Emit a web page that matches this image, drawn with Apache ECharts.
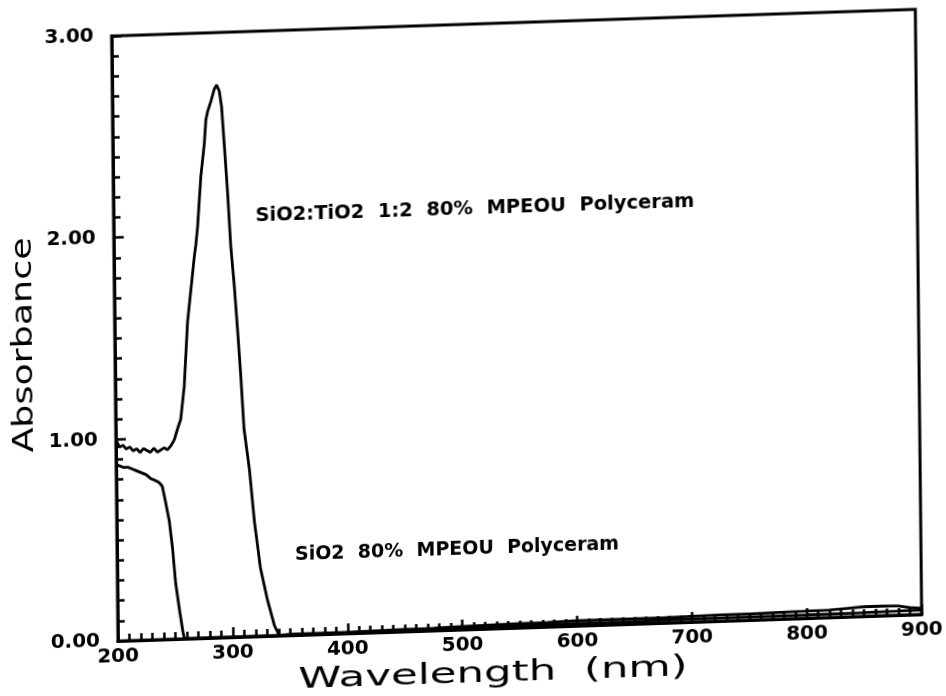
<!DOCTYPE html>
<html>
<head>
<meta charset="utf-8">
<title>Absorbance spectra</title>
<script src="https://cdn.jsdelivr.net/npm/echarts@6/dist/echarts.min.js"></script>
<style>
  html, body { margin: 0; padding: 0; background: #fff; overflow: hidden; width: 946px; height: 696px; }
  /* the plotted sheet sits slightly tilted on the page; the canvas runs a little past
     the bottom edge so the tilted axis title is not cut off */
  #chart { width: 946px; height: 740px; transform: rotate(-0.6deg) skewY(-1.3deg); transform-origin: 118px 641px; }
</style>
</head>
<body>
<div id="chart"></div>
<script>
// Axis ranges and tick spacing
const xRange = [200, 900];
const xStep = 100;
const yRange = [0, 3];
const yStep = 1;

// SiO2:TiO2 1:2 80% MPEOU Polyceram
const wavelengthTi = [200, 203, 206, 209, 212, 215, 218, 221, 224, 227, 230, 233, 236, 239, 242, 245, 248, 251,
  253.7, 256.7, 260, 263.5, 266.7, 269.9, 271.4, 273.1, 276.4, 279.7, 281.3, 282.9, 285.8, 288.9, 290.9, 293.2, 295.1,
  297, 299.5, 301.8, 304.4, 306.9, 309.3, 311.7, 316, 319.9, 324.7, 330.5, 336.4, 340.6,
  350, 375, 400, 425, 450, 475, 500, 525, 550, 575, 600, 625, 650, 675, 700, 725, 750, 775, 800, 820, 835, 850,
  865, 880, 890, 900];
const absorbanceTi = [1.00, 0.96, 0.97, 0.95, 0.96, 0.94, 0.95, 0.93, 0.95, 0.94, 0.93, 0.95, 0.93, 0.94, 0.95, 0.94, 0.96, 0.99,
  1.04, 1.09, 1.25, 1.57, 1.73, 1.89, 1.95, 2.04, 2.29, 2.45, 2.57, 2.61, 2.66, 2.72, 2.74, 2.71, 2.63,
  2.45, 2.21, 1.94, 1.75, 1.53, 1.30, 1.03, 0.83, 0.57, 0.34, 0.18, 0.05, 0.0,
  0.005, 0.005, 0.005, 0.008, 0.01, 0.012, 0.015, 0.018, 0.02, 0.022, 0.025, 0.025, 0.025, 0.025, 0.028, 0.03, 0.03, 0.033, 0.035, 0.037, 0.042, 0.047,
  0.048, 0.045, 0.035, 0.03];

// SiO2 80% MPEOU Polyceram
const wavelengthSi = [200, 202, 206, 210, 214, 218, 222, 226, 230, 234, 237, 240, 242.4, 245.8, 248.3, 250.8, 254.2, 256.8, 258,
  270, 300, 350, 400, 450, 500, 550, 600, 650, 700, 750, 800, 850, 880, 900];
const absorbanceSi = [0.88, 0.87, 0.86, 0.86, 0.85, 0.84, 0.83, 0.82, 0.80, 0.79, 0.78, 0.76, 0.69, 0.585, 0.455, 0.275, 0.13, 0.03, 0.0,
  0.0, 0.0, 0.0, 0.003, 0.005, 0.008, 0.01, 0.012, 0.012, 0.014, 0.015, 0.016, 0.018, 0.02, 0.022];

const seriesNames = ['SiO2:TiO2  1:2  80%  MPEOU  Polyceram', 'SiO2  80%  MPEOU  Polyceram'];
const xTitle = 'Wavelength  (nm)';
const yTitle = 'Absorbance';

const pairs = (xs, ys) => xs.map((x, i) => [x, ys[i]]);

const chart = echarts.init(document.getElementById('chart'), null, { renderer: 'canvas' });

const axisFont = { fontFamily: 'DejaVu Sans', fontWeight: 'bold', fontSize: 20, color: '#000' };
const tickStyle = { color: '#000', width: 2.5 };

chart.setOption({
  animation: false,
  backgroundColor: '#fff',
  grid: { left: 118, right: 23, top: 36, bottom: 99, show: true, borderColor: '#000', borderWidth: 3, backgroundColor: 'transparent' },
  xAxis: {
    type: 'value', min: xRange[0], max: xRange[1], interval: xStep,
    axisLine: { lineStyle: { color: '#000', width: 3 } },
    axisTick: { inside: true, length: 10, lineStyle: tickStyle },
    minorTick: { show: true, splitNumber: 10, length: 7, lineStyle: tickStyle },
    splitLine: { show: false },
    axisLabel: Object.assign({ margin: 6 }, axisFont)
  },
  yAxis: {
    type: 'value', min: yRange[0], max: yRange[1], interval: yStep,
    axisLine: { lineStyle: { color: '#000', width: 3 } },
    axisTick: { inside: true, length: 10, lineStyle: tickStyle },
    minorTick: { show: true, splitNumber: 10, length: 7, lineStyle: tickStyle },
    splitLine: { show: false },
    axisLabel: Object.assign({ margin: 18, formatter: v => v.toFixed(2) }, axisFont)
  },
  series: [
    {
      name: seriesNames[0], type: 'line', data: pairs(wavelengthTi, absorbanceTi),
      showSymbol: false, lineStyle: { color: '#000', width: 2.8 }, z: 3
    },
    {
      name: seriesNames[1], type: 'line', data: pairs(wavelengthSi, absorbanceSi),
      showSymbol: false, lineStyle: { color: '#000', width: 2.8 }, z: 3
    }
  ],
  graphic: [
    {
      type: 'text', x: 28, y: 342, rotation: Math.PI / 2, scaleX: 1.3,
      style: { text: yTitle, fontFamily: 'DejaVu Sans', fontSize: 28, fill: '#000', align: 'center', verticalAlign: 'middle' }
    },
    {
      type: 'text', x: 298, y: 686, scaleX: 1.5,
      style: { text: xTitle, fontFamily: 'DejaVu Sans', fontSize: 29, fill: '#000', align: 'left', verticalAlign: 'middle' }
    },
    {
      type: 'text', x: 260, y: 221,
      style: { text: seriesNames[0], fontFamily: 'DejaVu Sans', fontWeight: 'bold', fontSize: 19.5, fill: '#000', align: 'left', verticalAlign: 'middle' }
    },
    {
      type: 'text', x: 296, y: 561,
      style: { text: seriesNames[1], fontFamily: 'DejaVu Sans', fontWeight: 'bold', fontSize: 19, fill: '#000', align: 'left', verticalAlign: 'middle' }
    }
  ]
});
</script>
</body>
</html>
